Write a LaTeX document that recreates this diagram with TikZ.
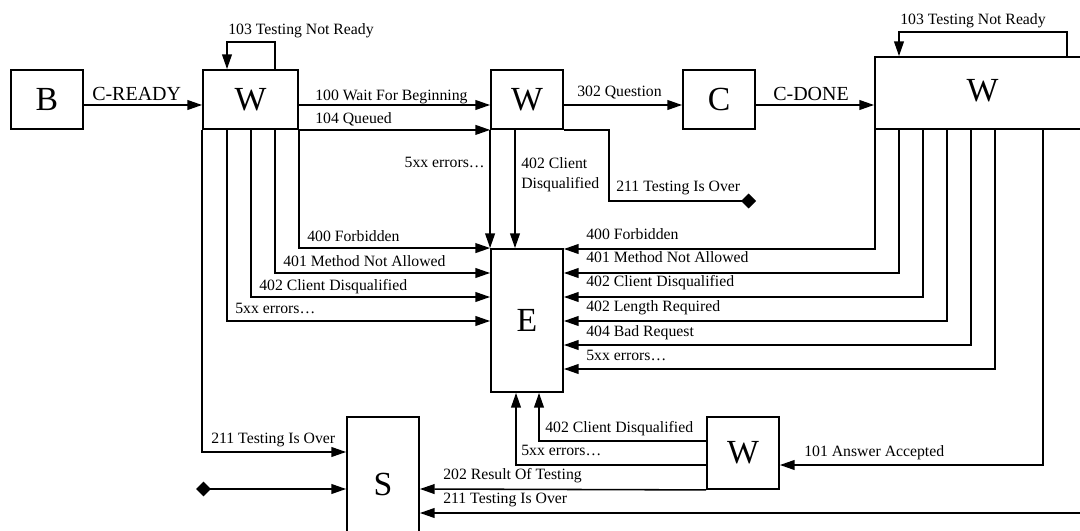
\documentclass[tikz,border=0pt]{standalone}
\usepackage{fontspec}
\setmainfont{Liberation Serif}
\usetikzlibrary{arrows.meta}

\begin{document}
\begin{tikzpicture}[
    x=0.025cm, y=-0.025cm,
    box/.style={draw, line width=1.3pt, inner sep=0pt, font=\fontsize{24}{28}\selectfont},
    lbl/.style={inner sep=0pt, anchor=base west, font=\fontsize{11.2}{14.2}\selectfont},
    biglbl/.style={inner sep=0pt, anchor=base west, font=\fontsize{14.2}{16}\selectfont},
    wire/.style={line width=1.1pt},
    arr/.style={line width=1.1pt, -{Triangle[length=10.5pt, width=7pt]}}
  ]
    \clip (0,0) rectangle (1080,531);
    \node[box, minimum width=1.8cm, minimum height=1.475cm] (b) at (47,99.5) {B};
    \node[box, minimum width=2.375cm, minimum height=1.475cm] (w1) at (250.5,99.5) {W};
    \node[box, minimum width=1.8cm, minimum height=1.475cm] (w2) at (527,99.5) {W};
    \node[box, minimum width=1.8cm, minimum height=1.475cm] (c) at (719,99.5) {C};
    \node[box, minimum width=5.375cm, minimum height=1.8cm] (w3) at (982.5,93) {\raisebox{4pt}{W}};
    \node[box, minimum width=1.8cm, minimum height=3.575cm] (e) at (527,320.5) {E};
    \node[box, minimum width=1.8cm, minimum height=3.35cm] (s) at (383,484) {S};
    \node[box, minimum width=1.8cm, minimum height=1.8cm] (w4) at (743,453) {W};
    \coordinate (over) at (756,201);
    \coordinate (start) at (196,489);

    \draw[arr] (b.east |- 0,105) -- (w1.west |- 0,105);
    \draw[arr] (w1.north -| 275,0) -- ++(0,-27) -| (w1.north -| 227,0);
    \draw[arr] (w1.east |- 0,105) -- (w2.west |- 0,105);
    \draw[arr] (w1.south east) -- (w2.south west);
    \draw[arr] (w2.east |- 0,105) -- (c.west |- 0,105);
    \draw[arr] (c.east |- 0,105) -- (w3.west |- 0,105);
    \draw[wire, -{Diamond[length=10.5pt, width=10.5pt]}] (w2.south east) -- ++(45,0) |- (over);
    \draw[arr] (w2.south west) -- (e.north west);
    \draw[arr] (w2.south -| 515,0) -- (e.north -| 515,0);
    \draw[arr] (w1.south east) |- (e.north west);
    \draw[arr] (w1.south -| 275,0) |- (e.west |- 0,273);
    \draw[arr] (w1.south -| 251,0) |- (e.west |- 0,297);
    \draw[arr] (w1.south -| 227,0) |- (e.west |- 0,321);
    \draw[arr] (w1.south west) |- (s.west |- 0,452);
    \draw[arr] (w3.north -| 1067,0) -- ++(0,-24) -| (w3.north -| 899,0);
    \foreach \x/\y in {875/249, 899/273, 923/297, 947/321, 971/345, 995/369}
      \draw[arr] (w3.south -| \x,0) |- (e.east |- 0,\y);
    \draw[arr] (w3.south -| 1043,0) |- (w4.east |- 0,465);
    \draw[arr] (w3.south -| 1085,0) |- (s.east |- 0,513);
    \draw[arr] (w4.west |- 0,441) -| (e.south -| 539,0);
    \draw[arr] (w4.west |- 0,465) -| (e.south -| 516,0);
    \draw[arr] (w4.south west) -- (s.east |- 0,489);
    \draw[line width=1.1pt, {Diamond[length=10.5pt, width=10.5pt]}-{Triangle[length=10.5pt, width=7pt]}] (start) -- (s.west |- 0,489);

    \node[lbl] (t103a) at (228,35) {103 Testing Not Ready};
    \node[biglbl] (tready) at (92,100.7) {C-READY};
    \node[lbl] (t100) at (315,100.5) {100 Wait For Beginning};
    \node[lbl] (t104) at (315,124) {104 Queued};
    \node[lbl] (t302) at (577,96.7) {302 Question};
    \node[biglbl] (tdone) at (773,101) {C-DONE};
    \node[lbl] (t103b) at (900,25) {103 Testing Not Ready};
    \node[lbl, anchor=base east] (t5xxa) at (485,168) {5xx errors…};
    \node[lbl, anchor=north west, align=left] (t402a) at (521,157.2) {402 Client\\Disqualified};
    \node[lbl] (t211a) at (616,192) {211 Testing Is Over};
    \node[lbl] (t400a) at (307,242) {400 Forbidden};
    \node[lbl] (t401a) at (283,267) {401 Method Not Allowed};
    \node[lbl] (t402b) at (259,291) {402 Client Disqualified};
    \node[lbl] (t5xxb) at (235,314) {5xx errors…};
    \foreach \y/\txt [count=\i] in {240/400 Forbidden, 263/401 Method Not Allowed,
        287/402 Client Disqualified, 312/402 Length Required, 336/404 Bad Request, 360/5xx errors…}
      \node[lbl] (tr\i) at (586,\y) {\txt};
    \node[lbl] (t211b) at (211,443) {211 Testing Is Over};
    \node[lbl] (t202) at (443,479) {202 Result Of Testing};
    \node[lbl] (t211c) at (443,503) {211 Testing Is Over};
    \node[lbl] (t5xxc) at (521,455) {5xx errors…};
    \node[lbl] (t402c) at (545,432) {402 Client Disqualified};
    \node[lbl] (t101) at (804,456) {101 Answer Accepted};
  \end{tikzpicture}
\end{document}
